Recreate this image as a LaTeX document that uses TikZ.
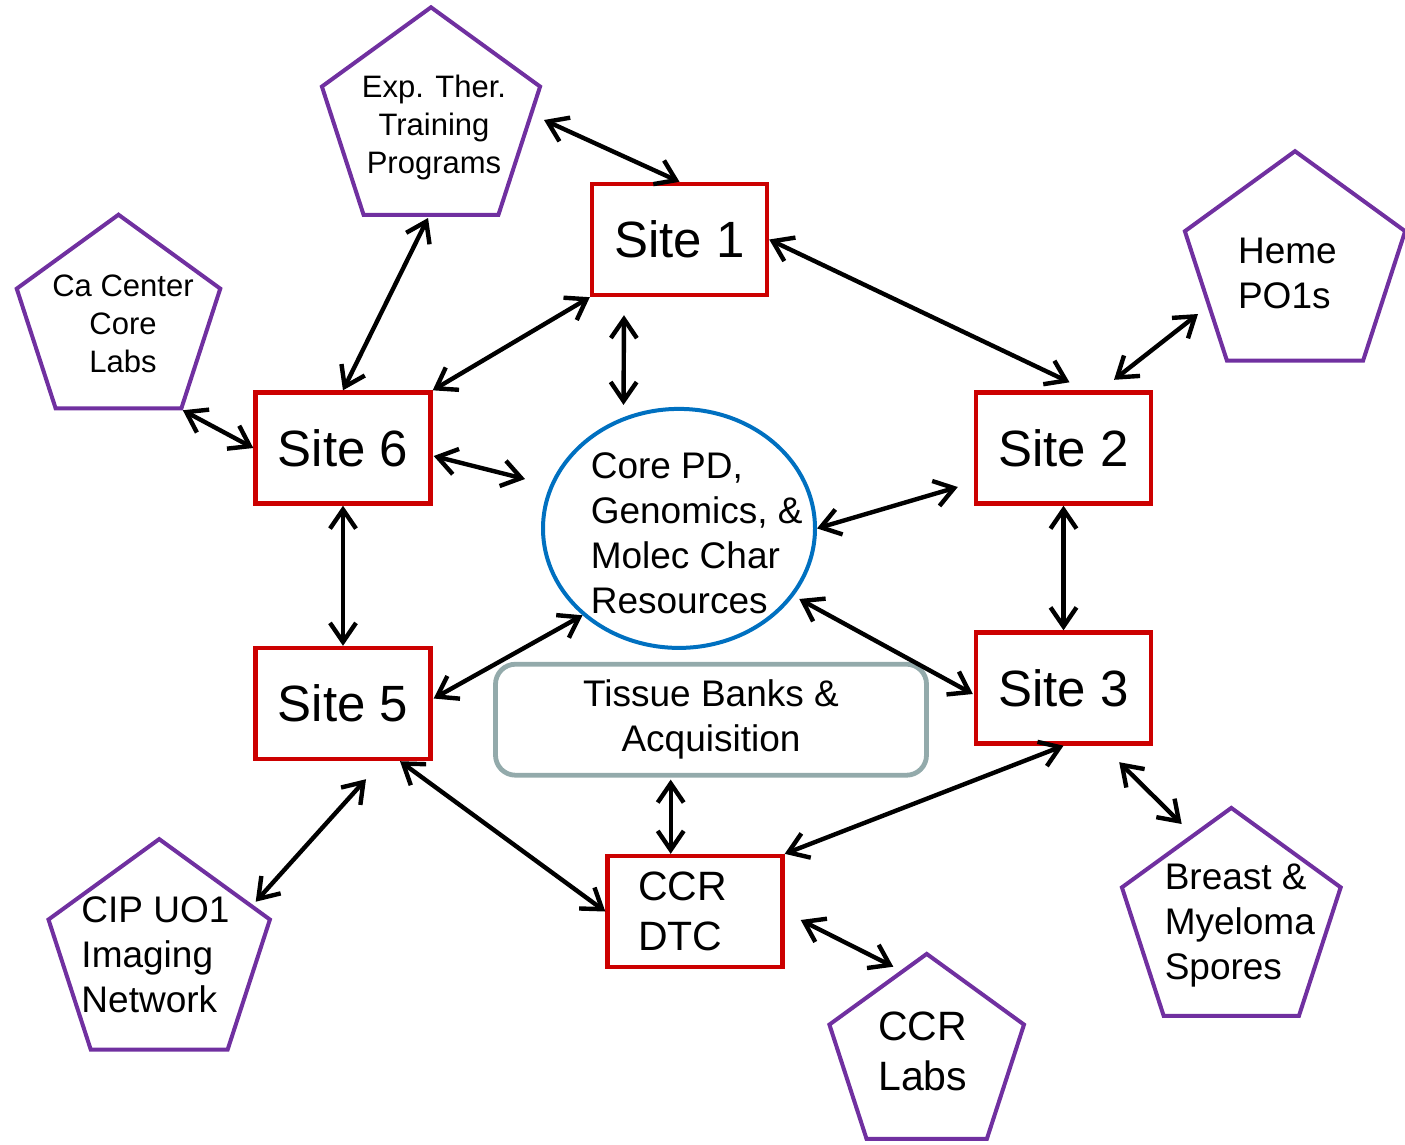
\documentclass[tikz,border=0pt]{standalone}
\usepackage{fontspec}
\setmainfont{Liberation Sans}
\usepackage{xcolor}
\usetikzlibrary{positioning, calc, arrows.meta, shapes.geometric}

\definecolor{sitered}{RGB}{204,0,0}
\definecolor{progpurple}{RGB}{112,48,160}
\definecolor{coreblue}{RGB}{0,112,192}
\definecolor{bankgray}{RGB}{147,170,171}

\begin{document}
\begin{tikzpicture}[
    % GLOBAL CFG
    x=1pt, y=-1pt,
    font=\fontsize{37}{45}\selectfont,
    >={Straight Barb[length=19pt, width=26pt]},
    % Styles
    sitebox/.style={% For the red site boxes
        rectangle,
        draw=sitered,
        line width=4.4pt,
        minimum width=175pt,
        minimum height=111pt,
        font=\fontsize{51}{61}\selectfont,
        },
    progbox/.style={% For the outside programs
        regular polygon,
        regular polygon sides=5,
        draw=progpurple,
        line width=4pt,
        inner sep=0pt,
        },
    progtext/.style={% Text set inside the pentagons
        align=left,
        inner sep=0pt,
        },
    smalltext/.style={font=\fontsize{31}{38}\selectfont},
    bigtext/.style={font=\fontsize{41}{50}\selectfont},
    coreball/.style={% For the central resources
        ellipse,
        draw=coreblue,
        line width=4pt,
        minimum width=272pt,
        minimum height=239pt,
        inner sep=0pt,
        },
    bankbox/.style={% For the tissue banks
        rectangle,
        rounded corners=20pt,
        draw=bankgray,
        line width=4.8pt,
        minimum width=431pt,
        minimum height=111pt,
        align=center,
        },
    link/.style={% Double arrows
        <->,
        line width=4.4pt,
        },
    ]

    \useasboundingbox (0,0) rectangle (1405,1144);

    % Draw the sites
    \node [sitebox] (site1) at (679.5,239.5) {Site 1};
    \node [sitebox] (site2) at (1063.5,448) {Site 2};
    \node [sitebox] (site3) at (1063.5,688) {Site 3};
    \node [sitebox] (site5) at (343,703.5) {Site 5};
    \node [sitebox] (site6) at (343,448) {Site 6};
    \node [sitebox, bigtext, text width=114pt, align=left] (ccrdtc) at (695,911.5) {CCR\\DTC};

    % Core and tissue banks
    \node [coreball] (core) at (679,528.4) {};
    \node [progtext] (coretext) at ($(core)+(17.7,5)$) {Core PD,\\Genomics, \&\\Molec Char\\Resources};
    \node [bankbox] (tissue) at (711,719.7) {Tissue Banks \&\\Acquisition};

    % Draw the programs
    \node [progbox, minimum size=229.4pt] (expther) at (431,122) {};
    \node [progtext, smalltext, align=center] (expthertext) at ($(expther)+(3,5)$) {Exp. Ther.\\Training\\Programs};
    \node [progbox, minimum size=214pt] (cacenter) at (118.5,321.7) {};
    \node [progtext, smalltext, align=center] (cacentertext) at ($(cacenter)+(4.5,2.2)$) {Ca Center\\Core\\Labs};
    \node [progbox, minimum size=231.6pt] (heme) at (1295,267) {};
    \node [progtext] (hemetext) at ($(heme)+(-7.6,6)$) {Heme\\PO1s};
    \node [progbox, minimum size=230pt] (breast) at (1231.3,922.9) {};
    \node [progtext] (breasttext) at ($(breast)+(8.5,3)$) {Breast \&\\Myeloma\\Spores};
    \node [progbox, minimum size=204.6pt] (ccrlabs) at (926.7,1056.2) {};
    \node [progtext, bigtext] (ccrlabstext) at ($(ccrlabs)+(-4,-5)$) {CCR\\Labs};
    \node [progbox, minimum size=232.8pt] (cip) at (159.2,955.5) {};
    \node [progtext] (ciptext) at ($(cip)+(-3.7,-1)$) {CIP UO1\\Imaging\\Network};

    % Connect the programs
    \draw [link] ($(expther)+(113,-2)$) -- (site1.north);
    \draw [link] ($(expther)+(-3,96)$) -- (site6.north);
    \draw [link] (cacenter.corner 4) -- (site6.west);
    \draw [link] ($(heme)+(-97,47)$) -- ($(site2.north)+(50.5,-10.5)$);
    \draw [link] ($(site3.south east)+(-34,16.5)$) -- ($(breast)+(-49.6,-98.9)$);
    \draw [link] ($(ccrdtc.east)+(16,8.5)$) -- ($(ccrlabs)+(-33.4,-89.5)$);
    \draw [link] ($(site5.south)+(23,18)$) -- ($(cip)+(96.5,-53.8)$);

    % Connect the sites
    \draw [link] (site1.east) -- ($(site2.north)+(6,-8)$);
    \draw [link] (site1.south west) -- (site6.north east);
    \draw [link] (site2.south) -- (site3.north);
    \draw [link] (site6.south) -- (site5.north);
    \draw [link] (site3.south) -- (ccrdtc.north east);
    \draw [link] ($(site5.south)+(57,0)$) -- (ccrdtc.west);
    \draw [link] ($(tissue.south)+(-40.3,2)$) -- ($(ccrdtc.north)+(-24.3,0)$);

    % Core
    \draw [link] ($(site1.south)+(-55.5,18)$) -- ($(core.north)+(-55.5,-2)$);
    \draw [link] ($(site6.east)+(1,8)$) -- ($(core)+(-154,-49.4)$);
    \draw [link] (core.east) -- ($(site2.west)+(-16,39)$);
    \draw [link] (core.222) -- ($(site5.east)+(1,-5)$);
    \draw [link] ($(core)+(120.3,70.6)$) -- ($(site3.west)+(-1,6)$);

\end{tikzpicture}
\end{document}
